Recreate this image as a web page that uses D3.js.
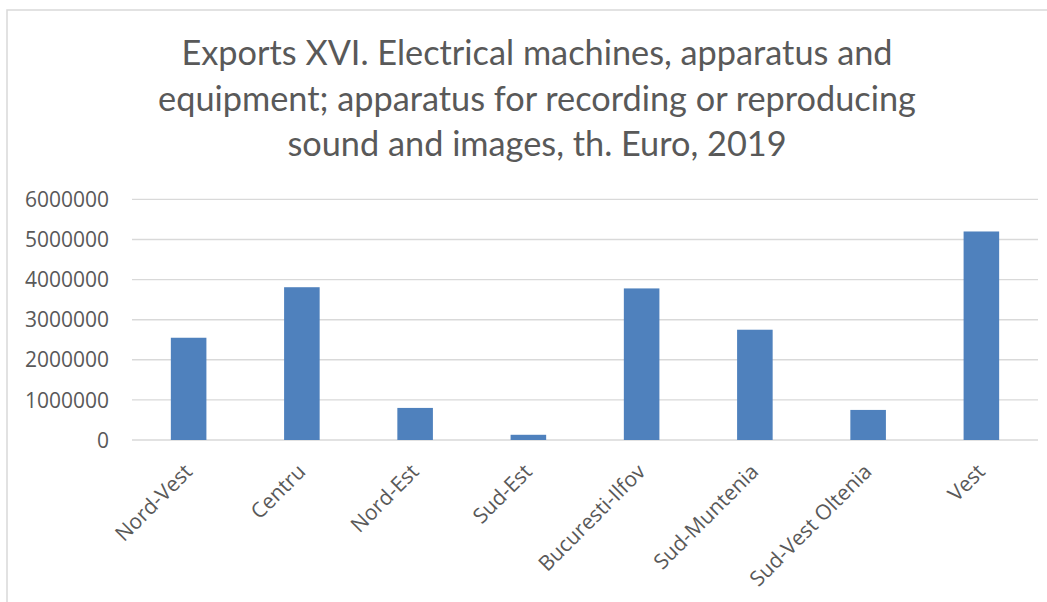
<!DOCTYPE html>
<html>
<head>
<meta charset="utf-8">
<script src="https://cdn.jsdelivr.net/npm/d3@7"></script>
<style>
  html, body { margin: 0; padding: 0; background: #fff; }
  svg { display: block; }
</style>
</head>
<body>
<svg id="chart" width="1047" height="602"></svg>
<script>
const categories = ["Nord-Vest", "Centru", "Nord-Est", "Sud-Est", "Bucuresti-Ilfov", "Sud-Muntenia", "Sud-Vest Oltenia", "Vest"];
const values = [2550000, 3810000, 800000, 130000, 3780000, 2750000, 750000, 5200000];
const yTicks = [0, 1000000, 2000000, 3000000, 4000000, 5000000, 6000000];
const titleLines = [
  "Exports XVI. Electrical machines, apparatus and",
  "equipment; apparatus for recording or reproducing",
  "sound and images, th. Euro, 2019"
];

const svg = d3.select("#chart");
const textColor = "#595959";
const gridColor = "#d9d9d9";

// chart border (extends past right/bottom edge)
svg.append("rect")
  .attr("x", 7).attr("y", 10)
  .attr("width", 1100).attr("height", 700)
  .attr("fill", "none")
  .attr("stroke", gridColor)
  .attr("stroke-width", 1.5);

const x = d3.scaleBand()
  .domain(categories)
  .range([132, 1038])
  .paddingInner(0.686)
  .paddingOuter(0.343);

const y = d3.scaleLinear()
  .domain([0, 6000000])
  .range([440, 199.4]);

// gridlines
svg.append("g")
  .selectAll("line")
  .data(yTicks)
  .join("line")
  .attr("x1", 132).attr("x2", 1038)
  .attr("y1", d => y(d)).attr("y2", d => y(d))
  .attr("stroke", gridColor)
  .attr("stroke-width", 1.4);

// y axis labels
const yAxis = d3.axisLeft(y).tickValues(yTicks).tickSize(0).tickPadding(0).tickFormat(d3.format("d"));
const yg = svg.append("g").attr("transform", "translate(109,0)").call(yAxis);
yg.select(".domain").remove();
yg.selectAll("text")
  .attr("fill", textColor)
  .attr("font-family", "'Open Sans', sans-serif")
  .attr("font-size", 21)
  .attr("dy", "0.34em");

// bars
svg.append("g")
  .selectAll("rect")
  .data(values)
  .join("rect")
  .attr("x", (d, i) => x(categories[i]))
  .attr("width", x.bandwidth())
  .attr("y", d => y(d))
  .attr("height", d => y(0) - y(d))
  .attr("fill", "#4f81bd");

// x axis labels
const xAxis = d3.axisBottom(x).tickSize(0).tickPadding(0);
const xg = svg.append("g").attr("transform", "translate(0,440)").call(xAxis);
xg.select(".domain").remove();
xg.selectAll(".tick text")
  .attr("fill", textColor)
  .attr("font-family", "'Open Sans', sans-serif")
  .attr("font-size", 21)
  .attr("text-anchor", "end")
  .attr("y", 0)
  .attr("dy", 0)
  .attr("transform", "translate(5,33) rotate(-45)");

// title
svg.append("g")
  .selectAll("text")
  .data(titleLines)
  .join("text")
  .attr("x", 537)
  .attr("y", (d, i) => 65 + i * 45.5)
  .attr("text-anchor", "middle")
  .attr("fill", textColor)
  .attr("font-family", "Lato, sans-serif")
  .attr("font-size", 34.3)
  .text(d => d);
</script>
</body>
</html>
